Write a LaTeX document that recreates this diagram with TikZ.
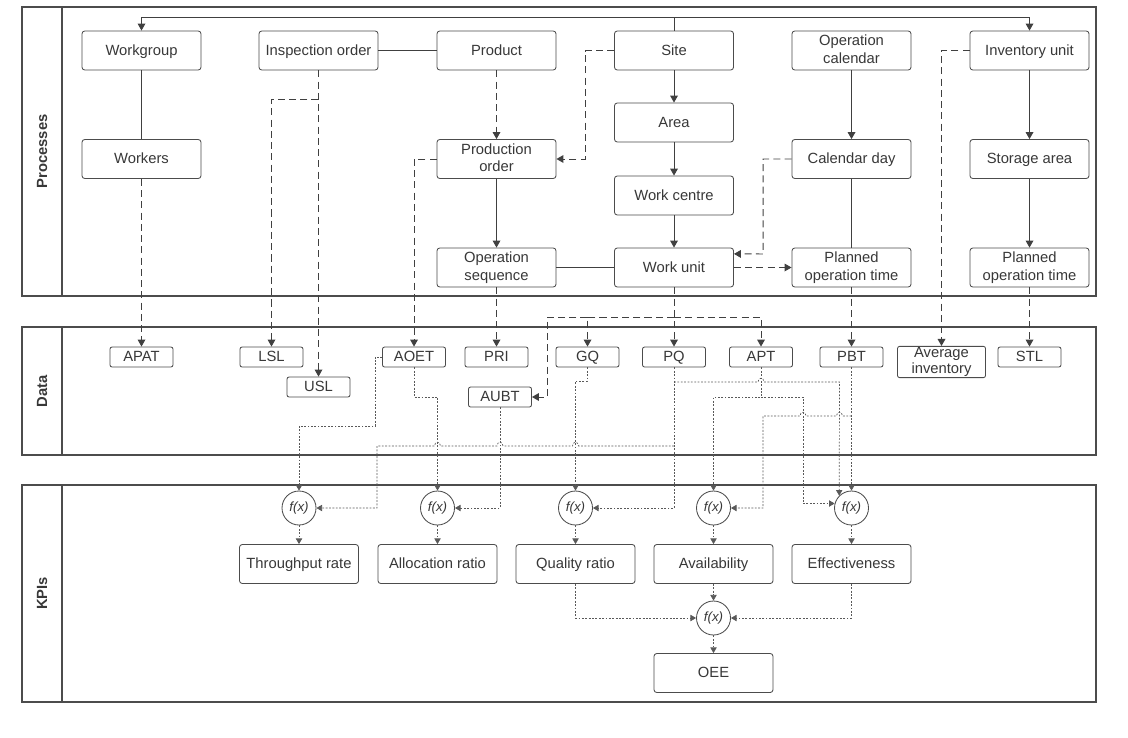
\documentclass[tikz,border=0pt]{standalone}
\usepackage{fontspec}
\setmainfont{Liberation Sans}
\usetikzlibrary{arrows.meta}
\usetikzlibrary{calc}
\newcommand\boxstrut{\rule[-2.2pt]{0pt}{10.8pt}}

\begin{document}
\begin{tikzpicture}[x=0.025cm,y=-0.025cm,
    every node/.style={text=black!78},
    panel/.style={draw=black!70,line width=1pt},
    proc/.style={draw=black!70,fill=white,rounded corners=2pt,line width=0.6pt,minimum width=2.975cm,minimum height=0.975cm,inner sep=1pt,align=center,font=\fontsize{10.5}{12.5}\selectfont,execute at begin node=\boxstrut,execute at end node=\boxstrut},
    dbox/.style={draw=black!70,fill=white,rounded corners=1.5pt,line width=0.6pt,minimum width=1.575cm,minimum height=0.5cm,inner sep=1pt,align=center,font=\fontsize{10.5}{10}\selectfont,execute at begin node=\boxstrut,execute at end node=\boxstrut},
    fx/.style={draw=black!70,fill=white,circle,line width=0.6pt,minimum size=0.85cm,inner sep=0pt,font=\fontsize{9.5}{10}\selectfont\itshape},
    lbl/.style={rotate=90,font=\fontsize{10.5}{12}\selectfont\bfseries},
    con/.style={draw=black!75,line width=0.7pt},
    arr/.style={con,-{Triangle[width=5.5pt,length=5pt]}},
    dsh/.style={arr,dash pattern=on 5pt off 3pt},
    dat/.style={draw=black!65,line width=0.5pt,dash pattern=on 1.3pt off 1.1pt,-{Triangle[width=4.5pt,length=4pt]}},
    hopl/.style args={#1:#2}{insert path={-- (#1+3,#2) .. controls (#1+3,#2-5) and (#1-3,#2-5) .. (#1-3,#2)}},
    hopr/.style args={#1:#2}{insert path={-- (#1-3,#2) .. controls (#1-3,#2-5) and (#1+3,#2-5) .. (#1+3,#2)}}]
  \useasboundingbox (0,0) rectangle (1128,737);

  % lanes
  \draw[panel] (22,7) rectangle (1096,296);
  \draw[panel] (62,7) -- (62,296);
  \node[lbl] (lproc) at (42,151.5) {Processes};
  \draw[panel] (22,327) rectangle (1096,455);
  \draw[panel] (62,327) -- (62,455);
  \node[lbl] (ldata) at (42,391) {Data};
  \draw[panel] (22,485) rectangle (1096,702);
  \draw[panel] (62,485) -- (62,702);
  \node[lbl] (lkpi) at (42,593.5) {KPIs};

  % processes
  \node[proc] (wg) at (141.5,50.5) {Workgroup};
  \node[proc] (insp) at (318.5,50.5) {Inspection order};
  \node[proc] (product) at (496.5,50.5) {Product};
  \node[proc] (site) at (674,50.5) {Site};
  \node[proc] (opcal) at (851.5,50.5) {Operation\\calendar};
  \node[proc] (inv) at (1029.5,50.5) {Inventory unit};
  \node[proc] (area) at (674,122.5) {Area};
  \node[proc] (workers) at (141.5,159) {Workers};
  \node[proc] (prodord) at (496.5,159) {Production\\order};
  \node[proc] (calday) at (851.5,159) {Calendar day};
  \node[proc] (storage) at (1029.5,159) {Storage area};
  \node[proc] (wc) at (674,195.5) {Work centre};
  \node[proc] (opseq) at (496.5,267.5) {Operation\\sequence};
  \node[proc] (wu) at (674,267.5) {Work unit};
  \node[proc] (pot) at (851.5,267.5) {Planned\\operation time};
  \node[proc] (stpot) at (1029.5,267.5) {Planned\\operation time};

  % data
  \node[dbox] (apat) at (141.5,357) {APAT};
  \node[dbox] (lsl) at (271.5,357) {LSL};
  \node[dbox] (usl) at (318.5,387) {USL};
  \node[dbox] (aoet) at (414,357) {AOET};
  \node[dbox] (pri) at (496.5,357) {PRI};
  \node[dbox] (aubt) at (500,397) {AUBT};
  \node[dbox] (gq) at (587.5,357) {GQ};
  \node[dbox] (pq) at (674,357) {PQ};
  \node[dbox] (apt) at (761,357) {APT};
  \node[dbox] (pbt) at (851.5,357) {PBT};
  \node[dbox,minimum width=2.2cm,minimum height=0.75cm,font=\fontsize{10.5}{8}\selectfont,execute at begin node={},execute at end node={}] (avginv) at (941.5,362) {Average\\inventory};
  \node[dbox] (stl) at (1029.5,357) {STL};

  % kpis
  \node[fx] (f1) at (299,508) {f(x)};
  \node[fx] (f2) at (437.5,508) {f(x)};
  \node[fx] (f3) at (575.5,508) {f(x)};
  \node[fx] (f4) at (713.5,508) {f(x)};
  \node[fx] (f5) at (851.5,508) {f(x)};
  \node[proc] (thr) at (299,564) {Throughput rate};
  \node[proc] (alloc) at (437.5,564) {Allocation ratio};
  \node[proc] (qual) at (575.5,564) {Quality ratio};
  \node[proc] (avail) at (713.5,564) {Availability};
  \node[proc] (eff) at (851.5,564) {Effectiveness};
  \node[fx] (f6) at (713.5,618) {f(x)};
  \node[proc] (oee) at (713.5,673) {OEE};

  \coordinate (bus) at (674,17);
  \coordinate (ib) at (318.5,99);
  \coordinate (wb) at (674,317);
  \coordinate (pqa) at (674,446);
  \coordinate (pqb) at (674,382);
  \coordinate (pba) at (851.5,416);

  \draw[arr] (site.north) -- (bus) -| (wg.north);
  \draw[arr] (bus) -| (inv.north);
  \draw[con] (wg) -- (workers);
  \draw[dsh] (workers) -- (apat);
  \draw[con] (insp) -- (product);
  \draw[dsh] (insp) -- (usl);
  \draw[dsh] (ib) -| (lsl.north);
  \draw[dsh] (product) -- (prodord);
  \draw[dsh] (site.west) -| (585,159) -- (prodord.east);
  \draw[dsh] (prodord.west) -| (aoet.north);
  \draw[arr] (prodord) -- (opseq);
  \draw[con] (opseq) -- (wu);
  \draw[dsh] (opseq) -- (pri);
  \draw[arr] (site) -- (area);
  \draw[arr] (area) -- (wc);
  \draw[arr] (wc) -- (wu);
  \draw[dsh] (calday.west) -| (763,254) -- ([yshift=0.34cm]wu.east);
  \draw[dsh] (wu) -- (pot);
  \draw[arr] (opcal) -- (calday);
  \draw[con] (calday) -- (pot);
  \draw[dsh] (pot) -- (pbt);
  \draw[dsh] (inv.west) -| (avginv.north);
  \draw[arr] (inv) -- (storage);
  \draw[arr] (storage) -- (stpot);
  \draw[dsh] (stpot) -- (stl);
  \draw[dsh] (wu) -- (pq);
  \draw[dsh] (wb) -| (gq.north);
  \draw[dsh] (wb) -| (apt.north);
  \draw[dsh] (gq.north |- wb) -- (547,317) |- (aubt.east);

  \draw[dat] (aoet.west) -| (375,426) -| (f1.north);
  \draw[dat] (pqa) [hopl=575.5:446] [hopl=500:446] [hopl=437.5:446] -- (377,446) |- (f1.east);
  \draw[dat] (aoet.south) |- (437.5,397) -- (f2.north);
  \draw[dat] (aubt.south) |- (f2.east);
  \draw[dat] (gq.south) |- (575.5,381) -- (f3.north);
  \draw[dat] (pq.south) |- (f3.east);
  \draw[dat] (pqb) [hopr=761:382] -- (839.5,382) -- (f5.135);
  \draw[dat] (apt.south) |- (713.5,397) -- (f4.north);
  \draw[dat] (apt.south |- 0,397) -- (803,397) |- (f5.165);
  \draw[dat] (pbt) -- (f5);
  \draw[dat] (pba) [hopl=839.5:416] [hopl=803:416] -- (763,416) |- (f4.east);
  \draw[dat] (f1) -- (thr);
  \draw[dat] (f2) -- (alloc);
  \draw[dat] (f3) -- (qual);
  \draw[dat] (f4) -- (avail);
  \draw[dat] (f5) -- (eff);
  \draw[dat] (qual.south) |- (f6.west);
  \draw[dat] (avail) -- (f6);
  \draw[dat] (eff.south) |- (f6.east);
  \draw[dat] (f6) -- (oee);
\end{tikzpicture}
\end{document}
